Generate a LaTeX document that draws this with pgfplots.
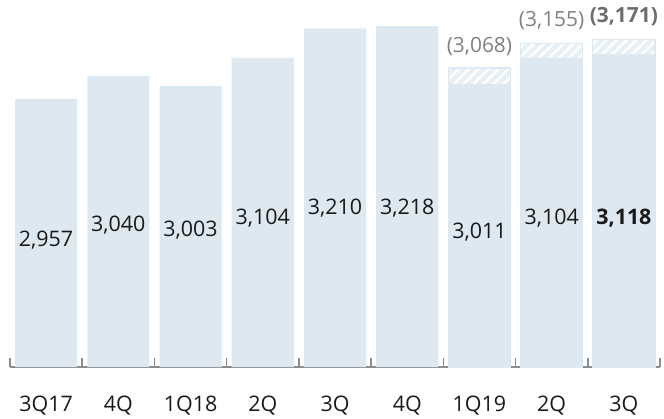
\documentclass[border=0pt]{standalone}
\usepackage{fontspec}
\setmainfont{Open Sans}
\usepackage{pgfplots}
\pgfplotsset{compat=1.18}
\usetikzlibrary{patterns.meta}
\definecolor{barblue}{RGB}{221,232,241}
\definecolor{hatchblue}{RGB}{232,240,246}
\definecolor{axisgray}{RGB}{140,140,140}
\definecolor{txt}{RGB}{25,25,25}
\definecolor{ptxt}{RGB}{128,128,128}
\begin{document}
\begin{tikzpicture}
\useasboundingbox (-10bp,-52bp) rectangle (654bp,367bp);
\begin{axis}[
  at={(0,0)}, anchor=south west,
  scale only axis, width=650bp, height=367bp,
  xmin=-0.5, xmax=8.5, ymin=2000, ymax=3311,
  axis x line*=bottom, axis y line=none,
  axis line style={draw=axisgray, line width=1.6bp},
  xtick={0,...,8},
  xticklabels={3Q17,4Q,1Q18,2Q,3Q,4Q,1Q19,2Q,3Q},
  major tick length=0pt,
  extra x ticks={-0.5,0.5,...,8.5},
  extra x tick labels={},
  extra x tick style={major tick length=9bp, tick align=inside, tick style={draw=axisgray, line width=1.6bp}},
  xticklabel style={font=\fontsize{21.5}{24}\selectfont, text=txt, yshift=-25bp},
  ytick=\empty,
]
\addplot[ybar, bar width=0.86, bar shift=0pt, fill=hatchblue, draw=barblue, line width=1.2bp,
  postaction={pattern={Lines[angle=45,distance=7bp,line width=2.5bp]}, pattern color=white}]
  coordinates {(6,3068) (7,3155) (8,3171)};
\addplot[ybar, bar width=0.86, bar shift=0pt, fill=barblue, draw=none]
  coordinates {(0,2957) (1,3040) (2,3003) (3,3104) (4,3210) (5,3218) (6,3011) (7,3104) (8,3118)};
\begin{scope}[every node/.style={font=\fontsize{21.5}{24}\selectfont, text=txt}]
\node at (axis cs:0,2454) {2,957};
\node at (axis cs:1,2507) {3,040};
\node at (axis cs:2,2489) {3,003};
\node at (axis cs:3,2532) {3,104};
\node at (axis cs:4,2568) {3,210};
\node at (axis cs:5,2568) {3,218};
\node at (axis cs:6,2482) {3,011};
\node at (axis cs:7,2532) {3,104};
\node at (axis cs:8,2532) {\bfseries 3,118};
\end{scope}
\begin{scope}[every node/.style={font=\fontsize{21}{24}\selectfont, text=ptxt}]
\node at (axis cs:6,3143) {(3,068)};
\node at (axis cs:7,3239) {(3,155)};
\node[text=ptxt!85!black] at (axis cs:8,3250) {\bfseries (3,171)};
\end{scope}
\end{axis}
\end{tikzpicture}
\end{document}
